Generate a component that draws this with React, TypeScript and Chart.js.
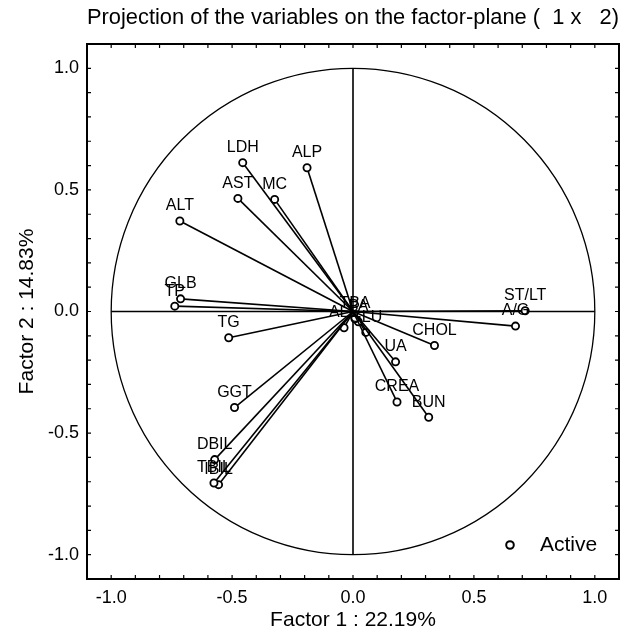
import { useEffect, useRef } from "react";
import { Chart, registerables } from "chart.js";

Chart.register(...registerables);

const variableNames = ["LDH", "ALP", "AST", "MC", "ALT", "GLB", "TP", "TG", "GGT", "DBIL", "TBIL", "IBIL", "ST/LT", "A/G", "CHOL", "UA", "CREA", "BUN", "ALB", "TBA", "PA", "GLU"];
const factor1 = [-0.456, -0.19, -0.476, -0.324, -0.716, -0.713, -0.737, -0.514, -0.49, -0.572, -0.575, -0.556, 0.712, 0.672, 0.337, 0.176, 0.182, 0.313, -0.037, 0.008, 0.022, 0.053];
const factor2 = [0.612, 0.591, 0.465, 0.461, 0.372, 0.052, 0.022, -0.108, -0.395, -0.609, -0.705, -0.712, 0.003, -0.06, -0.14, -0.207, -0.372, -0.435, -0.067, -0.03, -0.042, -0.086];
const majorTicks = [-1.0, -0.5, 0.0, 0.5, 1.0];
const minorTicks = [-1.0, -0.9, -0.8, -0.7, -0.6, -0.5, -0.4, -0.3, -0.2, -0.1, 0.0, 0.1, 0.2, 0.3, 0.4, 0.5, 0.6, 0.7, 0.8, 0.9, 1.0];
const titleText = "Projection of the variables on the factor-plane (  1 x   2)";
const xTitle = "Factor 1 : 22.19%";
const yTitle = "Factor 2 : 14.83%";
const legendText = "Active";

const FONT = "'Liberation Sans', Arial, sans-serif";

const decor = {
  id: "decor",
  beforeDatasetsDraw(chart: any) {
    const { ctx, scales } = chart;
    const x = scales.x, y = scales.y;
    ctx.save();
    const cx = x.getPixelForValue(0), cy = y.getPixelForValue(0);
    const rx = x.getPixelForValue(1) - cx, ry = cy - y.getPixelForValue(1);
    ctx.strokeStyle = "#000";
    ctx.lineWidth = 1.3;
    ctx.beginPath();
    ctx.ellipse(cx, cy, rx, ry, 0, 0, Math.PI * 2);
    ctx.stroke();
    ctx.lineWidth = 1.6;
    ctx.beginPath();
    ctx.moveTo(x.getPixelForValue(-1), cy);
    ctx.lineTo(x.getPixelForValue(1), cy);
    ctx.moveTo(cx, y.getPixelForValue(1));
    ctx.lineTo(cx, y.getPixelForValue(-1));
    ctx.stroke();
    ctx.restore();
  },
  afterDatasetsDraw(chart: any) {
    const { ctx, chartArea, scales } = chart;
    const x = scales.x, y = scales.y;
    ctx.save();
    // point labels
    ctx.fillStyle = "#000";
    ctx.font = `16px ${FONT}`;
    ctx.textAlign = "center";
    ctx.textBaseline = "middle";
    variableNames.forEach((n, i) => {
      ctx.fillText(n, x.getPixelForValue(factor1[i]), y.getPixelForValue(factor2[i]) - 15);
    });
    // frame
    ctx.strokeStyle = "#000";
    ctx.lineWidth = 2;
    ctx.strokeRect(chartArea.left, chartArea.top, chartArea.right - chartArea.left, chartArea.bottom - chartArea.top);
    ctx.lineWidth = 1.2;
    ctx.beginPath();
    const tl = 4;
    minorTicks.forEach((v) => {
      const px = x.getPixelForValue(v);
      ctx.moveTo(px, chartArea.top);
      ctx.lineTo(px, chartArea.top + tl);
      ctx.moveTo(px, chartArea.bottom);
      ctx.lineTo(px, chartArea.bottom - tl);
      const py = y.getPixelForValue(v);
      ctx.moveTo(chartArea.left, py);
      ctx.lineTo(chartArea.left + tl, py);
      ctx.moveTo(chartArea.right, py);
      ctx.lineTo(chartArea.right - tl, py);
    });
    ctx.stroke();
    // legend
    const lx = chartArea.right - 109, ly = chartArea.bottom - 34;
    ctx.lineWidth = 2;
    ctx.beginPath();
    ctx.arc(lx, ly, 3.8, 0, Math.PI * 2);
    ctx.fillStyle = "#fff";
    ctx.fill();
    ctx.stroke();
    ctx.fillStyle = "#000";
    ctx.font = `21px ${FONT}`;
    ctx.textAlign = "left";
    ctx.textBaseline = "middle";
    ctx.fillText(legendText, lx + 30, ly);
    ctx.restore();
  },
};

export default function App() {
  const ref = useRef<HTMLCanvasElement | null>(null);
  useEffect(() => {
    if (!ref.current) return;
    const datasets = variableNames.map((n, i) => ({
      label: n,
      data: [
        { x: 0, y: 0 },
        { x: factor1[i], y: factor2[i] },
      ],
      showLine: true,
      borderColor: "#000",
      borderWidth: 1.6,
      pointRadius: [0, 3.6],
      pointBorderWidth: 1.8,
      pointBorderColor: "#000",
      pointBackgroundColor: "#fff",
    }));
    const tickFont = { family: FONT, size: 18 };
    const chart = new Chart(ref.current, {
      type: "scatter",
      data: { datasets },
      options: {
        animation: false,
        responsive: true,
        maintainAspectRatio: false,
        layout: { padding: { top: 0, right: 7, left: 0, bottom: 0 } },
        plugins: {
          legend: { display: false },
          tooltip: { enabled: false },
          title: {
            display: true,
            text: titleText,
            fullSize: false,
            color: "#000",
            font: { family: FONT, size: 22, weight: "normal" },
            padding: { top: 5, bottom: 12.6 },
          },
        },
        scales: {
          x: {
            type: "linear",
            min: -1.1,
            max: 1.1,
            grid: { display: false, drawTicks: false },
            border: { display: false },
            afterBuildTicks: (s: any) => {
              s.ticks = majorTicks.map((v) => ({ value: v }));
            },
            afterFit: (s: any) => {
              s.height = 58;
            },
            ticks: { color: "#000", font: tickFont, padding: 8, maxRotation: 0, callback: (v: any) => Number(v).toFixed(1) },
            title: { display: true, text: xTitle, color: "#000", font: { family: FONT, size: 21 }, padding: { top: 0, bottom: 4 } },
          },
          y: {
            type: "linear",
            min: -1.1,
            max: 1.1,
            grid: { display: false, drawTicks: false },
            border: { display: false },
            afterBuildTicks: (s: any) => {
              s.ticks = majorTicks.map((v) => ({ value: v }));
            },
            afterFit: (s: any) => {
              s.width = 87;
            },
            ticks: { color: "#000", font: tickFont, padding: 8, callback: (v: any) => Number(v).toFixed(1) },
            title: { display: true, text: yTitle, color: "#000", font: { family: FONT, size: 21 }, padding: { top: 15, bottom: 0 } },
          },
        },
      },
      plugins: [decor],
    } as any);
    return () => chart.destroy();
  }, []);
  return (
    <div style={{ position: "fixed", left: 0, top: 0, width: 626, height: 637, background: "#fff" }}>
      <canvas ref={ref} />
    </div>
  );
}
